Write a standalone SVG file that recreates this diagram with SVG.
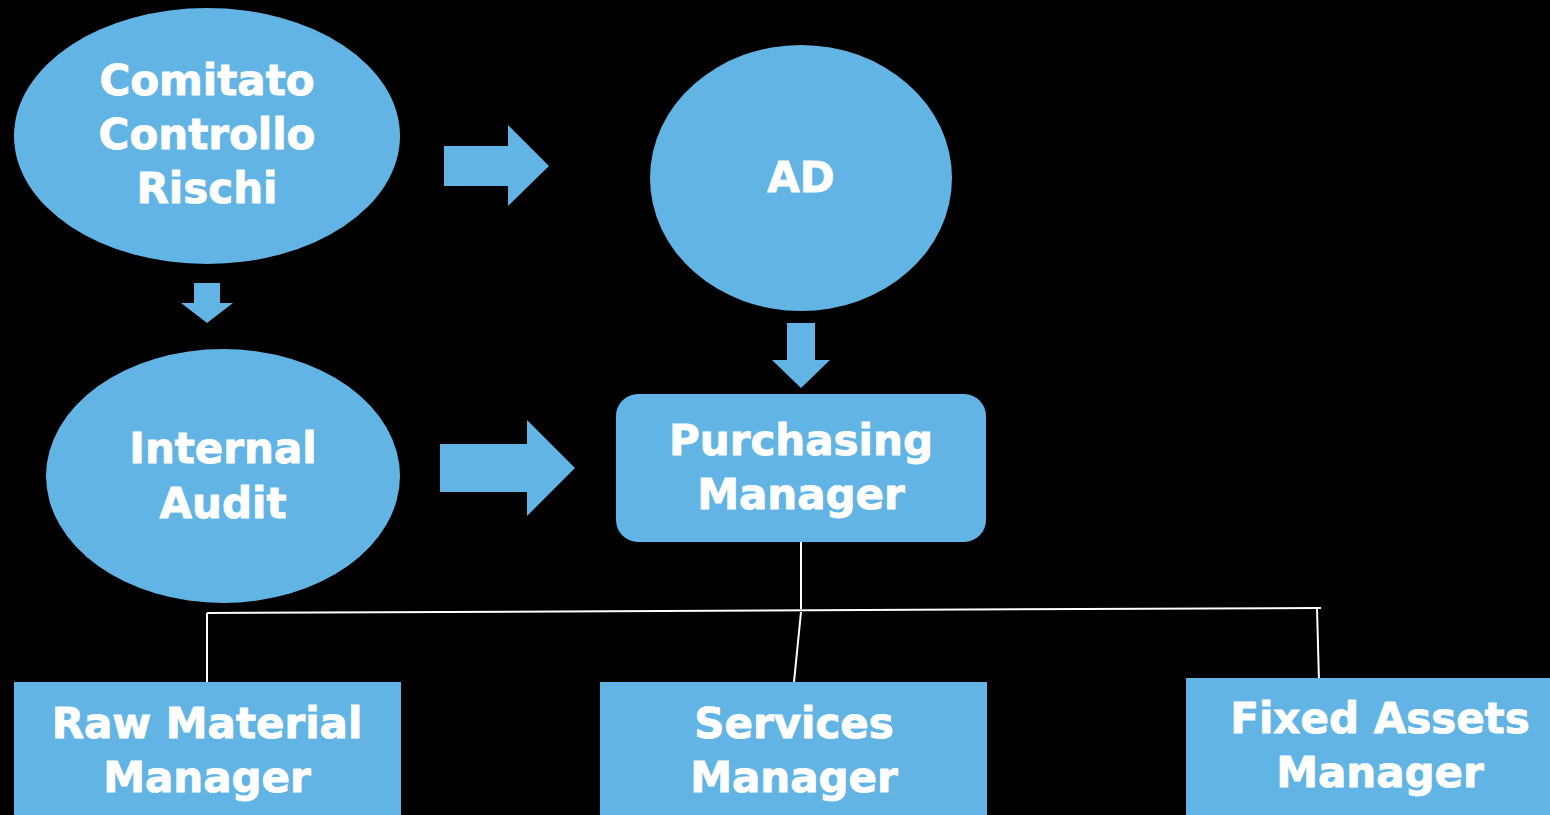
<svg xmlns="http://www.w3.org/2000/svg" width="1550" height="815" viewBox="0 0 1550 815">
  <style>
    .shape { fill: #62B4E4; }
    .label { fill: #FFFFFF; stroke: #FFFFFF; stroke-width: 0.9; font-family: "DejaVu Sans", Verdana, sans-serif; font-weight: bold; font-size: 42px; text-anchor: middle; }
    .link { stroke: #FFFFFF; stroke-width: 2; fill: none; }
  </style>
  <rect x="0" y="0" width="1550" height="815" fill="#000000"/>

  <!-- block arrows and tree lines -->
  <g id="connectors">
    <polygon class="shape" points="444,146 508,146 508,125 549,166 508,206 508,186 444,186"/>
    <polygon class="shape" points="194,283 220,283 220,303 233,303 207,323 181,303 194,303"/>
    <polygon class="shape" points="787,323 815,323 815,360 830,360 801,388 772,360 787,360"/>
    <polygon class="shape" points="440,444 527,444 527,420 575,468 527,516 527,492 440,492"/>
    <path class="link" d="M801,542 L801,609"/>
    <path class="link" d="M207,613 L1321,608"/>
    <path class="link" d="M207,613 L207,682"/>
    <path class="link" d="M801,612 L794,682"/>
    <path class="link" d="M1317,608 L1319,682"/>
  </g>

  <g id="comitato">
    <ellipse class="shape" cx="207" cy="136" rx="193" ry="128"/>
    <text class="label" x="207" y="95">Comitato</text>
    <text class="label" x="207" y="149">Controllo</text>
    <text class="label" x="207" y="203">Rischi</text>
  </g>

  <g id="ad">
    <ellipse class="shape" cx="801" cy="178" rx="151" ry="133"/>
    <text class="label" x="801" y="192">AD</text>
  </g>

  <g id="internal-audit">
    <ellipse class="shape" cx="223" cy="476" rx="177" ry="127"/>
    <text class="label" x="223" y="463">Internal</text>
    <text class="label" x="223" y="518">Audit</text>
  </g>

  <g id="purchasing-manager">
    <rect class="shape" x="616" y="394" width="370" height="148" rx="22" ry="22"/>
    <text class="label" x="801" y="455">Purchasing</text>
    <text class="label" x="801" y="509">Manager</text>
  </g>

  <g id="raw-material-manager">
    <rect class="shape" x="14" y="682" width="387" height="133"/>
    <text class="label" x="207" y="738">Raw Material</text>
    <text class="label" x="207" y="792">Manager</text>
  </g>

  <g id="services-manager">
    <rect class="shape" x="600" y="682" width="387" height="133"/>
    <text class="label" x="794" y="738">Services</text>
    <text class="label" x="794" y="792">Manager</text>
  </g>

  <g id="fixed-assets-manager">
    <rect class="shape" x="1186" y="678" width="364" height="137"/>
    <text class="label" x="1380" y="733">Fixed Assets</text>
    <text class="label" x="1380" y="787">Manager</text>
  </g>
</svg>
